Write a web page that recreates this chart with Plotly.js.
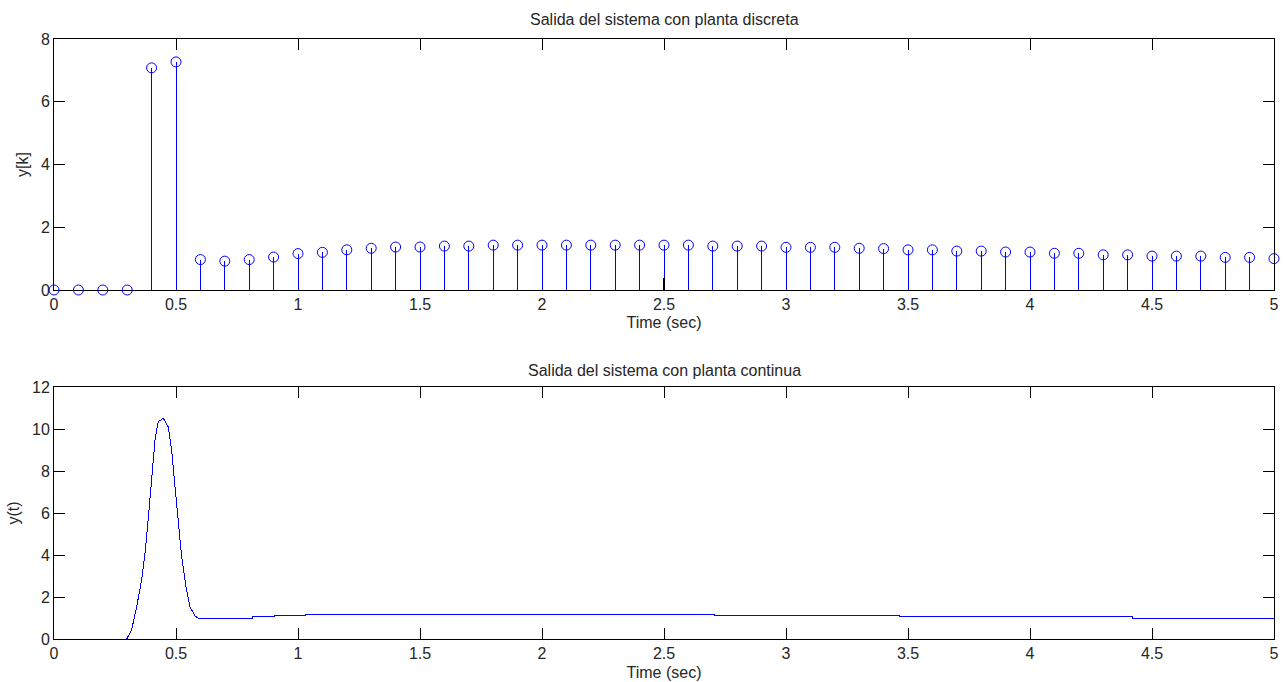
<!DOCTYPE html>
<html>
<head>
<meta charset="utf-8">
<script src="https://cdn.plot.ly/plotly-3.0.1.min.js"></script>
<style>
html,body{margin:0;padding:0;background:#fff;}
#chart{width:1287px;height:682px;}
#chart .scatterlayer path.js-line{shape-rendering:crispEdges;}
</style>
</head>
<body>
<div id="chart"></div>
<script>
// Discrete system output (stem plot)
const timeK = [0,0.1,0.2,0.3,0.4,0.5,0.6,0.7,0.8,0.9,1.0,1.1,1.2,1.3,1.4,1.5,1.6,1.7,1.8,1.9,2.0,2.1,2.2,2.3,2.4,2.5,2.6,2.7,2.8,2.9,3.0,3.1,3.2,3.3,3.4,3.5,3.6,3.7,3.8,3.9,4.0,4.1,4.2,4.3,4.4,4.5,4.6,4.7,4.8,4.9,5.0];
const yK = [0,0,0,0,7.08,7.27,0.97,0.92,0.97,1.05,1.16,1.20,1.28,1.33,1.37,1.37,1.40,1.40,1.43,1.43,1.43,1.43,1.43,1.43,1.43,1.43,1.43,1.40,1.40,1.40,1.36,1.36,1.36,1.33,1.32,1.28,1.28,1.24,1.24,1.21,1.21,1.17,1.17,1.12,1.12,1.08,1.08,1.08,1.04,1.04,1.00];
// small black mark seen at t = 2.5 in the discrete plot
const markT = [2.5, 2.5];
const markY = [0, 0.37];

// Continuous system output
const timeC = [0,0.298,0.318,0.339,0.359,0.373,0.387,0.401,0.414,0.427,0.448,0.468,0.482,0.496,0.509,0.523,0.541,0.557,0.578,0.591,0.6,0.814,0.814,0.903,0.903,1.029,1.029,2.706,2.706,3.464,3.464,4.42,4.42,5.0];
const yC = [0,0,0.43,1.54,2.81,4.08,5.82,7.73,9.48,10.35,10.51,10.11,9.0,7.25,5.51,3.92,2.49,1.54,1.10,0.99,0.99,0.99,1.06,1.06,1.11,1.11,1.17,1.17,1.11,1.11,1.06,1.06,1.00,1.00];

// tick values / labels
const xTicks = [0,0.5,1,1.5,2,2.5,3,3.5,4,4.5,5];
const xTickText = ['0','0.5','1','1.5','2','2.5','3','3.5','4','4.5','5'];
const yTicksTop = [0,2,4,6,8];
const yTicksBottom = [0,2,4,6,8,10,12];

const titles = ['Salida del sistema con planta discreta','Salida del sistema con planta continua'];

// build stem segments from data
const stemX = [], stemY = [];
timeK.forEach((t,i)=>{ stemX.push(t,t,null); stemY.push(0,yK[i],null); });

const blue = '#0000ff';
const traces = [
  {x: stemX, y: stemY, type:'scatter', mode:'lines', line:{color:blue, width:1}, xaxis:'x', yaxis:'y', hoverinfo:'skip'},
  {x: markT, y: markY, type:'scatter', mode:'lines', line:{color:'#000', width:1.5}, xaxis:'x', yaxis:'y', hoverinfo:'skip'},
  {x: timeK, y: yK, type:'scatter', mode:'markers', cliponaxis:false, marker:{symbol:'circle-open', size:10, color:blue, line:{width:1, color:blue}}, xaxis:'x', yaxis:'y'},
  {x: timeC, y: yC, type:'scatter', mode:'lines', line:{color:blue, width:1}, xaxis:'x2', yaxis:'y2'}
];

const fnt = {family:'Liberation Sans, Arial, sans-serif', size:16, color:'#262626'};
const axisBase = {
  showline:true, linecolor:'#000', linewidth:1, mirror:'ticks',
  ticks:'inside', ticklen:11, tickcolor:'#000', tickwidth:1,
  showgrid:false, zeroline:false, tickfont:fnt
};
const xDom = [54/1287, 1274/1287];

const layout = {
  width:1287, height:682, showlegend:false,
  paper_bgcolor:'#fff', plot_bgcolor:'#fff',
  margin:{l:0,r:0,t:0,b:0},
  font: fnt,
  xaxis: Object.assign({}, axisBase, {domain:xDom, range:[0,5], tickvals:xTicks, ticktext:xTickText, anchor:'y', layer:'below traces',
    title:{text:'Time (sec)', font:fnt, standoff:4}}),
  yaxis: Object.assign({}, axisBase, {domain:[1-290/682, 1-39/682], range:[0,8], tickvals:yTicksTop, anchor:'x', layer:'below traces',
    title:{text:'y[k]', font:fnt, standoff:8}}),
  xaxis2: Object.assign({}, axisBase, {domain:xDom, range:[0,5], tickvals:xTicks, ticktext:xTickText, anchor:'y2',
    title:{text:'Time (sec)', font:fnt, standoff:5}}),
  yaxis2: Object.assign({}, axisBase, {domain:[1-639/682, 1-387/682], range:[0,12], tickvals:yTicksBottom, anchor:'x2',
    title:{text:'y(t)', font:fnt, standoff:8}}),
  annotations: [
    {text:titles[0], xref:'paper', yref:'paper', x:(54+1274)/2/1287, y:1-20/682, showarrow:false, xanchor:'center', yanchor:'middle', font:fnt},
    {text:titles[1], xref:'paper', yref:'paper', x:(54+1274)/2/1287, y:1-370/682, showarrow:false, xanchor:'center', yanchor:'middle', font:fnt}
  ]
};

Plotly.newPlot('chart', traces, layout, {displayModeBar:false, staticPlot:true});
</script>
</body>
</html>
